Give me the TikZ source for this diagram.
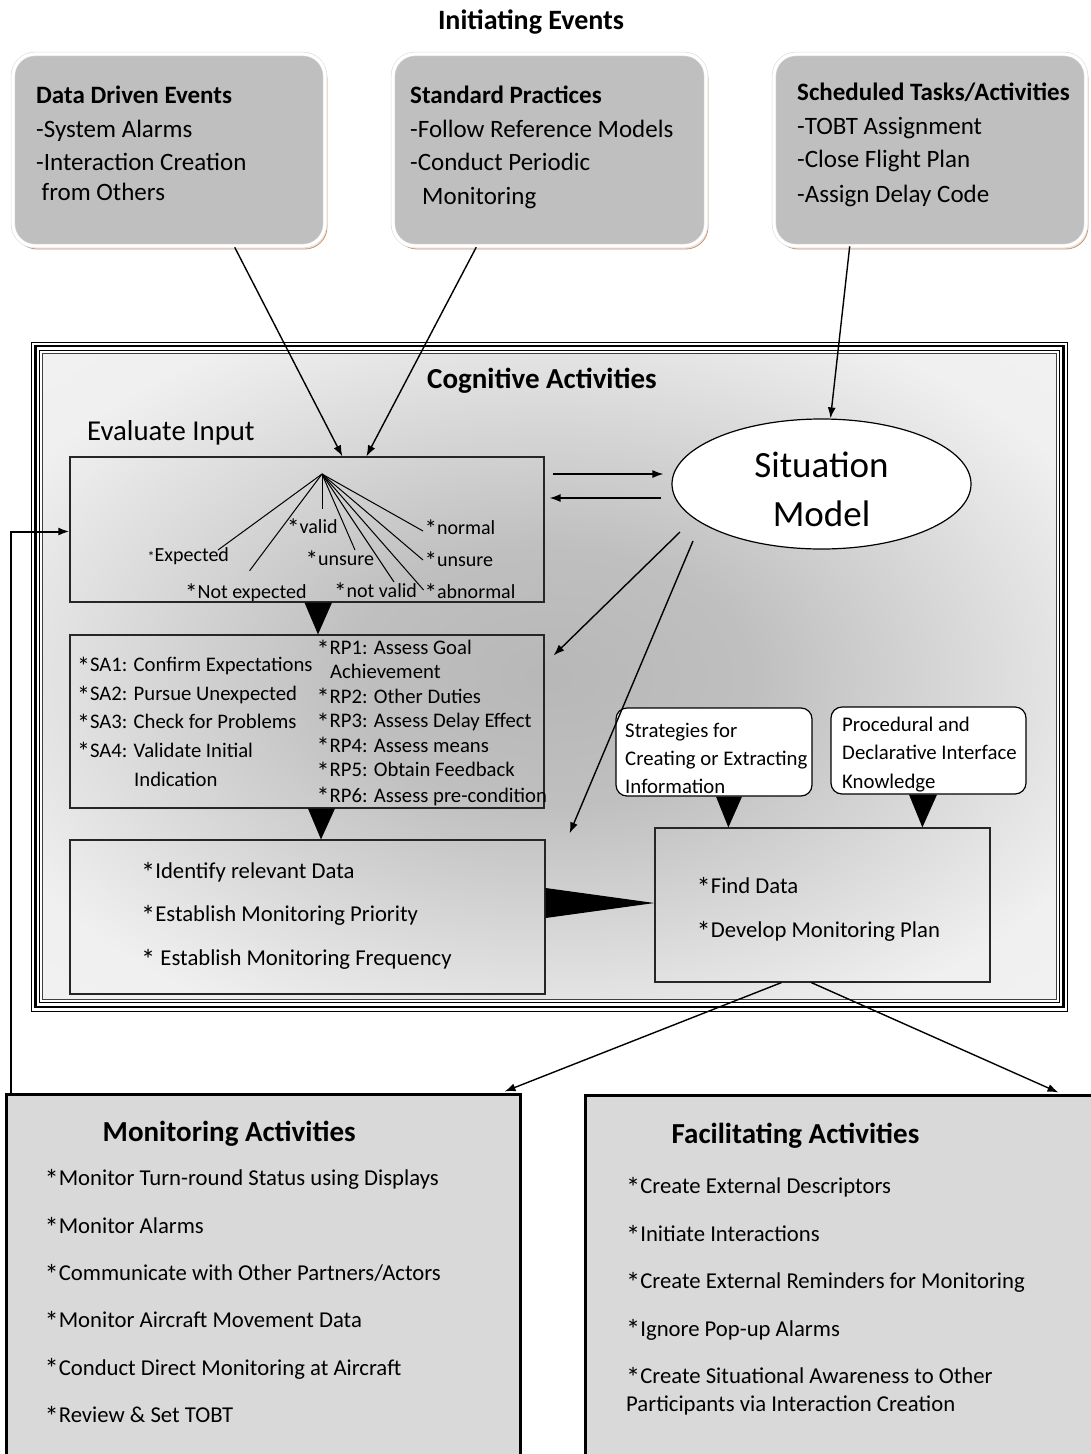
\documentclass[tikz,border=0pt]{standalone}
\usepackage{fontspec}
\setmainfont{Carlito}
\usetikzlibrary{arrows.meta,calc,shapes.geometric,shadows}

\definecolor{topgray}{HTML}{BFBFBF}
\definecolor{botgray}{HTML}{D9D9D9}
\definecolor{rimbrown}{HTML}{C99470}

% soft grey background of the cognitive frame, darker towards the middle
\pgfdeclareradialshading{cogbg}{\pgfpointorigin}{color(0bp)=(black!28); color(10bp)=(black!25); color(30bp)=(black!6); color(50bp)=(black!4)}

\newcommand{\fsz}[1]{\fontsize{#1}{#1}\selectfont}
% slightly enlarged list asterisk
\newcommand{\as}{\raisebox{-0.15em}{\scalebox{1.25}{*}}}

\begin{document}
\begin{tikzpicture}[x=1pt,y=-1pt,
  lbl/.style={anchor=mid west, inner sep=0pt, yshift=-5.5pt},
  ctr/.style={anchor=center, inner sep=0pt},
  topbox/.style={rectangle, rounded corners=22pt, draw=black!14, double=white, double distance=3.2pt,
    line width=0.6pt, fill=topgray, inner sep=0pt, minimum height=192pt,
    drop shadow={shadow xshift=2pt, shadow yshift=-3pt, fill=rimbrown!20, draw=rimbrown, line width=0.8pt, opacity=1}},
  cogbox/.style={rectangle, draw=black!85, line width=1.2pt, inner sep=0pt},
  knowbox/.style={rectangle, rounded corners=11pt, draw=black, fill=white, line width=1.2pt, inner sep=0pt},
  botbox/.style={rectangle, draw=black, line width=3pt, fill=botgray, inner sep=0pt},
  arr/.style={-{Latex[length=11pt,width=8pt]}, line width=1.4pt},
  fan/.style={line width=1pt},
  wedge/.style={fill=black},
]
\useasboundingbox (0,0) rectangle (1091,1454);

% ---------- initiating events ----------
\node[ctr, font=\bfseries\fsz{28}, yshift=-2.5pt] (initT) at (531,20) {Initiating Events};

\node[topbox, minimum width=312pt] (dde) at (169,150) {};
\node[topbox, minimum width=313pt] (sp)  at (549.5,150) {};
\node[topbox, minimum width=312pt] (stt) at (930,150) {};

\begin{scope}[every node/.append style={font=\fsz{25}}]
\node[lbl, font=\bfseries\fsz{25}] (dde1) at (36,96) {Data Driven Events};
\node[lbl] (dde2) at (36,130) {-System Alarms};
\node[lbl] (dde3) at (36,163) {-Interaction Creation};
\node[lbl] (dde4) at (41.5,193) {from Others};

\node[lbl, font=\bfseries\fsz{25}] (sp1) at (410,96) {Standard Practices};
\node[lbl] (sp2) at (410,130) {-Follow Reference Models};
\node[lbl] (sp3) at (410,163) {-Conduct Periodic};
\node[lbl] (sp4) at (422,197) {Monitoring};

\node[lbl, font=\bfseries\fsz{25}] (stt1) at (797,93) {Scheduled Tasks/Activities};
\node[lbl] (stt2) at (797,127) {-TOBT Assignment};
\node[lbl] (stt3) at (797,160) {-Close Flight Plan};
\node[lbl] (stt4) at (797,195) {-Assign Delay Code};
\end{scope}

% ---------- cognitive activities frame ----------
\shade[shading=cogbg] (42.5,353) rectangle (1056.5,999.5);
\draw[line width=1pt] (31.5,342) rectangle (1067.5,1011);
\draw[line width=2.6pt] (35.5,346) rectangle (1063.5,1007);
\draw[line width=1pt] (39.5,350) rectangle (1059.5,1002.5);
\draw[line width=0.8pt, black!75] (42.5,353) rectangle (1056.5,999.5);

\node[ctr, font=\bfseries\fsz{29}, yshift=-2.5pt] (cogT) at (542,378) {Cognitive Activities};
\node[lbl, font=\fsz{28.8}] (evalT) at (87,433) {Evaluate Input};

% boxes inside the frame
\node[cogbox, minimum width=474pt, minimum height=145pt] (eval)  at (307,529.5) {};
\node[cogbox, minimum width=474pt, minimum height=173pt] (sarp)  at (307,721.5) {};
\node[cogbox, minimum width=475pt, minimum height=154pt] (ident) at (307.5,917) {};
\node[cogbox, minimum width=335pt, minimum height=154pt] (find)  at (822.5,905) {};
\node[knowbox, minimum width=196pt, minimum height=88pt] (strat) at (714,752) {};
\node[knowbox, minimum width=195pt, minimum height=87pt] (proc)  at (928.5,750.5) {};
\node[ellipse, draw=black, fill=white, line width=1.2pt, inner sep=0pt,
      minimum width=299pt, minimum height=130pt] (sm) at (821.5,484) {};
\node[ctr, font=\fsz{37}] (sm1) at (821.5,465) {Situation};
\node[ctr, font=\fsz{37}] (sm2) at (821.5,514) {Model};

% evaluation fan
\coordinate (apex) at (322,474);
\foreach \ex/\ey in {218/550, 249.6/570.7, 322/509, 355/550, 394/582, 423.6/590, 423/560, 423/531}
  \draw[fan] (apex) -- (\ex,\ey);

\begin{scope}[every node/.append style={font=\fsz{20}}]
\node[lbl] (fExp)  at (147.5,554) {{\fsz{14}*}Expected};
\node[lbl] (fVal)  at (287,525.5) {\as valid};
\node[lbl] (fNorm) at (424.5,526.5) {\as normal};
\node[lbl] (fUns1) at (305.5,558) {\as unsure};
\node[lbl] (fUns2) at (424.5,559) {\as unsure};
\node[lbl] (fNexp) at (185,591) {\as Not expected};
\node[lbl] (fNval) at (334,590) {\as not valid};
\node[lbl] (fAbn)  at (424.5,591) {\as abnormal};
\end{scope}

% SA / RP lists
\begin{scope}[every node/.append style={font=\fsz{20.7}}]
\node[lbl] (sa1) at (77,664) {\as SA1: Confirm Expectations};
\node[lbl] (sa2) at (77,693) {\as SA2: Pursue Unexpected};
\node[lbl] (sa3) at (77,721) {\as SA3: Check for Problems};
\node[lbl] (sa4) at (77,749.5) {\as SA4: Validate Initial};
\node[lbl] (sa4b) at (134,779) {Indication};
\node[lbl] (rp1) at (316.5,647) {\as RP1: Assess Goal};
\node[lbl] (rp1b) at (330,670.5) {Achievement};
\node[lbl] (rp2) at (316.5,695.5) {\as RP2: Other Duties};
\node[lbl] (rp3) at (316.5,720) {\as RP3: Assess Delay Effect};
\node[lbl] (rp4) at (316.5,744.5) {\as RP4: Assess means};
\node[lbl] (rp5) at (316.5,769) {\as RP5: Obtain Feedback};
\node[lbl] (rp6) at (316.5,794.5) {\as RP6: Assess pre-condition};
\end{scope}

% plan-building boxes
\begin{scope}[every node/.append style={font=\fsz{22.7}}]
\node[lbl] (id1) at (141,871) {\as Identify relevant Data};
\node[lbl] (id2) at (141,914) {\as Establish Monitoring Priority};
\node[lbl] (id3) at (141,958) {\as{} Establish Monitoring Frequency};
\node[lbl] (fd1) at (696.5,886) {\as Find Data};
\node[lbl] (fd2) at (696.5,930) {\as Develop Monitoring Plan};
\end{scope}

\begin{scope}[every node/.append style={font=\fsz{20.8}}]
\node[lbl] (st1) at (625,729.5) {Strategies for};
\node[lbl] (st2) at (625,758) {Creating or Extracting};
\node[lbl] (st3) at (625,786) {Information};
\node[lbl] (pr1) at (842,723.5) {Procedural and};
\node[lbl] (pr2) at (842,752) {Declarative Interface};
\node[lbl] (pr3) at (842,781) {Knowledge};
\end{scope}

% ---------- bottom activity boxes ----------
\node[botbox, minimum width=514pt, minimum height=386pt] (mon) at (263,1287) {};
\node[botbox, minimum width=525pt, minimum height=385pt] (fac) at (847.5,1287.5) {};

\node[lbl, font=\bfseries\fsz{29}] (monT) at (102.5,1133.5) {Monitoring Activities};
\begin{scope}[every node/.append style={font=\fsz{22.7}}]
\node[lbl] (m1) at (44.5,1178) {\as Monitor Turn-round Status using Displays};
\node[lbl] (m2) at (44.5,1226) {\as Monitor Alarms};
\node[lbl] (m3) at (44.5,1273) {\as Communicate with Other Partners/Actors};
\node[lbl] (m4) at (44.5,1320) {\as Monitor Aircraft Movement Data};
\node[lbl] (m5) at (44.5,1367.5) {\as Conduct Direct Monitoring at Aircraft};
\node[lbl] (m6) at (44.5,1415) {\as Review \& Set TOBT};
\end{scope}

\node[lbl, font=\bfseries\fsz{29}] (facT) at (671.5,1135.5) {Facilitating Activities};
\begin{scope}[every node/.append style={font=\fsz{22.7}}]
\node[lbl] (f1) at (626,1186) {\as Create External Descriptors};
\node[lbl] (f2) at (626,1234) {\as Initiate Interactions};
\node[lbl] (f3) at (626,1281) {\as Create External Reminders for Monitoring};
\node[lbl] (f4) at (626,1328.5) {\as Ignore Pop-up Alarms};
\node[lbl] (f5) at (626,1376) {\as Create Situational Awareness to Other};
\node[lbl] (f6) at (626,1403.5) {Participants via Interaction Creation};
\end{scope}

% ---------- connectors ----------
\draw[arr] ($(dde.south west)+(222,1)$) -- ($(eval.north west)+(273,0)$);
\draw[arr] ($(sp.south west)+(83.5,1)$) -- ($(eval.north west)+(297,0)$);
\draw[arr] ($(stt.south west)+(76,0)$) -- ($(sm.north)+(9,0)$);

\draw[arr] ($(eval.east)+(8,-55.5)$) -- ($(sm.west)+(-8,-10)$);
\draw[arr] ($(sm.west)+(-10,14)$) -- ($(eval.east)+(5,-31.5)$);

\draw[arr] ($(sm.center)+(-141.5,48)$) -- ($(sarp.north east)+(9,21)$);
\coordinate (gapEnd) at ($(ident.north east)+(24,-6)$);
\draw[arr] ($(sm.center)+(-128.5,57)$) -- (gapEnd);

% wide wedge connectors
\fill[wedge] ($(eval.south)+(-2.5,0)$) -- ($(eval.south)+(25,0)$) -- ($(sarp.north)+(11,0)$) -- cycle;
\fill[wedge] ($(sarp.south)+(1,0)$) -- ($(sarp.south)+(28,0)$) -- ($(ident.north)+(13.5,0)$) -- cycle;
\fill[wedge] ($(ident.east)+(0,-29)$) -- ($(ident.east)+(0,1)$) -- ($(find.west)+(0,-2)$) -- cycle;
\fill[wedge] ($(strat.south)+(2,0)$) -- ($(strat.south)+(28,0)$) -- ($(find.north west)+(74,0)$) -- cycle;
\fill[wedge] ($(proc.south)+(-19.5,0)$) -- ($(proc.south)+(8.5,0)$) -- ($(find.north west)+(268,0)$) -- cycle;

\draw[arr] ($(find.south west)+(127,0)$) -- ($(mon.north east)+(-17,-1)$);
\draw[arr] ($(find.south west)+(157,0)$) -- ($(fac.north west)+(475,-1)$);

\draw[arr, line width=2pt] ($(mon.north west)+(6,0)$) |- ($(eval.west)+(0,2)$);
\end{tikzpicture}
\end{document}
